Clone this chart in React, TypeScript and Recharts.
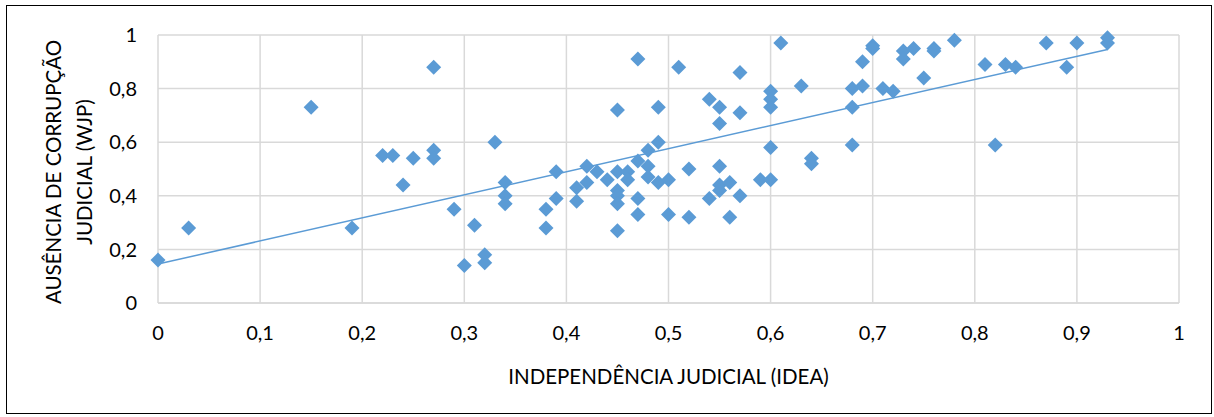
import React from "react"
import {
	ScatterChart,
	Scatter,
	XAxis,
	YAxis,
	CartesianGrid,
	ReferenceLine
} from "recharts"

// independência judicial (IDEA) – eixo X
const independencia = [
	0, 0.03, 0.15, 0.19, 0.22, 0.23, 0.24, 0.25, 0.27, 0.27,
	0.27, 0.29, 0.3, 0.31, 0.32, 0.32, 0.33, 0.34, 0.34, 0.34,
	0.38, 0.38, 0.39, 0.39, 0.41, 0.41, 0.42, 0.42, 0.43, 0.44,
	0.45, 0.45, 0.45, 0.45, 0.45, 0.45, 0.46, 0.46, 0.47, 0.47,
	0.47, 0.47, 0.48, 0.48, 0.48, 0.49, 0.49, 0.49, 0.5, 0.5,
	0.51, 0.52, 0.52, 0.54, 0.54, 0.55, 0.55, 0.55, 0.55, 0.55,
	0.56, 0.56, 0.57, 0.57, 0.57, 0.59, 0.6, 0.6, 0.6, 0.6,
	0.6, 0.61, 0.63, 0.64, 0.64, 0.68, 0.68, 0.68, 0.69, 0.69,
	0.7, 0.7, 0.71, 0.72, 0.73, 0.73, 0.74, 0.75, 0.76, 0.76,
	0.78, 0.81, 0.82, 0.83, 0.84, 0.87, 0.89, 0.9, 0.93, 0.93
]

// ausência de corrupção judicial (WJP) – eixo Y
const corrupcao = [
	0.16, 0.28, 0.73, 0.28, 0.55, 0.55, 0.44, 0.54, 0.88, 0.57,
	0.54, 0.35, 0.14, 0.29, 0.18, 0.15, 0.6, 0.45, 0.4, 0.37,
	0.35, 0.28, 0.49, 0.39, 0.43, 0.38, 0.51, 0.45, 0.49, 0.46,
	0.72, 0.49, 0.42, 0.4, 0.37, 0.27, 0.49, 0.46, 0.91, 0.53,
	0.39, 0.33, 0.57, 0.51, 0.47, 0.73, 0.6, 0.45, 0.46, 0.33,
	0.88, 0.5, 0.32, 0.76, 0.39, 0.73, 0.67, 0.51, 0.44, 0.42,
	0.45, 0.32, 0.86, 0.71, 0.4, 0.46, 0.79, 0.76, 0.73, 0.58,
	0.46, 0.97, 0.81, 0.54, 0.52, 0.8, 0.73, 0.59, 0.9, 0.81,
	0.96, 0.95, 0.8, 0.79, 0.94, 0.91, 0.95, 0.84, 0.95, 0.94,
	0.98, 0.89, 0.59, 0.89, 0.88, 0.97, 0.88, 0.97, 0.99, 0.97
]

const xTicks = [0, 0.1, 0.2, 0.3, 0.4, 0.5, 0.6, 0.7, 0.8, 0.9, 1]
const yTicks = [0, 0.2, 0.4, 0.6, 0.8, 1]

const BLUE = "#5b9bd5"
const GRID = "#d9d9d9"
const FONT = "Lato, 'Open Sans', sans-serif"

const points = independencia.map((x, i) => ({ x, y: corrupcao[i] }))

// linha de tendência linear (mínimos quadrados)
const n = points.length
const mx = independencia.reduce((a, b) => a + b, 0) / n
const my = corrupcao.reduce((a, b) => a + b, 0) / n
let sxy = 0
let sxx = 0
points.forEach(p => {
	sxy += (p.x - mx) * (p.y - my)
	sxx += (p.x - mx) * (p.x - mx)
})
const slope = sxy / sxx
const intercept = my - slope * mx
const xMin = Math.min(...independencia)
const xMax = Math.max(...independencia)

const fmt = (v: number) => String(v).replace(".", ",")

function Diamond(props: any) {
	const { cx, cy } = props
	const r = 7.5
	return (
		<polygon
			points={`${cx},${cy - r} ${cx + r},${cy} ${cx},${cy + r} ${cx - r},${cy}`}
			fill={BLUE}
		/>
	)
}

function YTitle(props: any) {
	const { viewBox } = props
	const cy = viewBox.y + viewBox.height / 2 + 3
	return (
		<g fontFamily={FONT} fontSize={20.5} fill="#000">
			<text x={53} y={cy} textAnchor="middle" dominantBaseline="central" transform={`rotate(-90 53 ${cy})`}>
				AUSÊNCIA DE CORRUPÇÃO
			</text>
			<text x={84} y={cy} textAnchor="middle" dominantBaseline="central" transform={`rotate(-90 84 ${cy})`}>
				JUDICIAL (WJP)
			</text>
		</g>
	)
}

export default function App() {
	return (
		<div style={{ position: "absolute", left: 0, top: 0, width: 1214, height: 417, background: "#fff" }}>
			<div
				style={{
					position: "absolute",
					left: 6,
					top: 5,
					width: 1204,
					height: 407,
					border: "1px solid #000"
				}}
			/>
			<ScatterChart
				width={1214}
				height={417}
				margin={{ top: 35, right: 35, bottom: 84, left: 98 }}
				style={{ position: "absolute", left: 0, top: 0 }}
			>
				<CartesianGrid stroke={GRID} strokeWidth={1.5} />
				<XAxis
					type="number"
					dataKey="x"
					domain={[0, 1]}
					ticks={xTicks}
					tickFormatter={fmt}
					height={30}
					axisLine={{ stroke: GRID, strokeWidth: 1.5 }}
					tickLine={false}
					tickMargin={17}
					tick={{ fill: "#000", fontSize: 20, fontFamily: FONT }}
					label={{
						value: "INDEPENDÊNCIA JUDICIAL (IDEA)",
						position: "insideBottom",
						offset: -51,
						fill: "#000",
						fontSize: 20.5,
						fontFamily: FONT
					}}
				/>
				<YAxis
					type="number"
					dataKey="y"
					domain={[0, 1]}
					ticks={yTicks}
					tickFormatter={fmt}
					width={60}
					axisLine={false}
					tickLine={false}
					tickMargin={15}
					tick={{ fill: "#000", fontSize: 20, fontFamily: FONT }}
					label={<YTitle />}
				/>
				<ReferenceLine
					segment={[
						{ x: xMin, y: intercept + slope * xMin },
						{ x: xMax, y: intercept + slope * xMax }
					]}
					stroke={BLUE}
					strokeWidth={1.5}
					ifOverflow="visible"
				/>
				<Scatter data={points} shape={<Diamond />} isAnimationActive={false} />
			</ScatterChart>
		</div>
	)
}
